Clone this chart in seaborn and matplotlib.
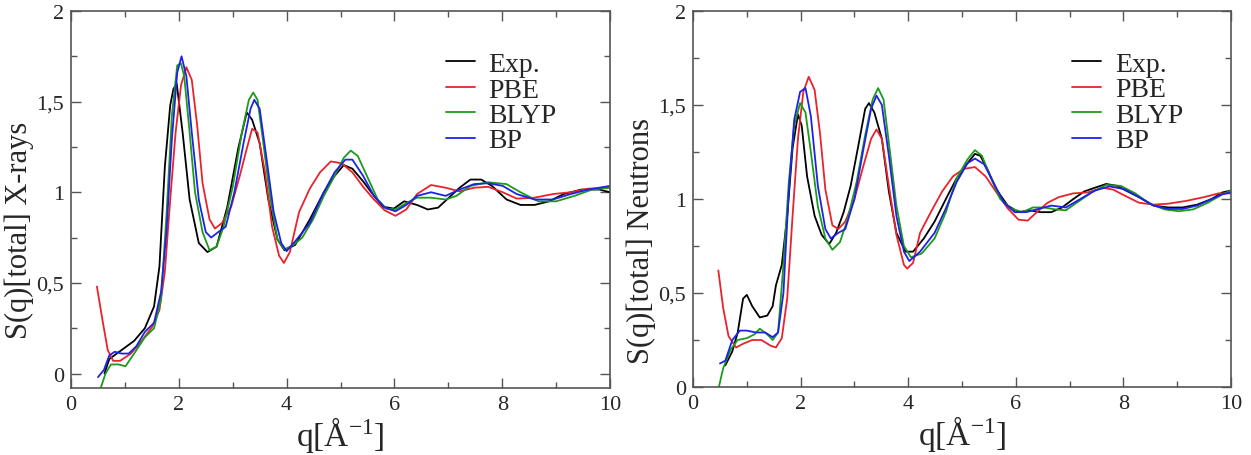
import numpy as np
import pandas as pd
import matplotlib
matplotlib.use('Agg')
import matplotlib.pyplot as plt
import seaborn as sns
from matplotlib.ticker import MultipleLocator, FuncFormatter

# --- data (q in 1/A, S(q) total) ---
series_names = ['Exp.', 'PBE', 'BLYP', 'BP']
series_colors = ['#000000', '#e8232b', '#1c9a1c', '#1f22e6']

# X-rays panel
xray_exp_q = [0.62, 0.71, 0.94, 1.17, 1.37, 1.54, 1.64, 1.74, 1.84, 1.90, 1.96, 2.07, 2.20, 2.37, 2.53, 2.70, 2.90, 3.10, 3.26, 3.36, 3.50, 3.66, 3.83, 3.96, 4.16, 4.43, 4.69, 4.89, 5.06, 5.22, 5.42, 5.62, 5.79, 5.99, 6.18, 6.42, 6.62, 6.81, 7.01, 7.21, 7.41, 7.61, 7.81, 8.08, 8.34, 8.60, 8.87, 9.14, 9.47, 9.80, 10.0]
xray_exp_s = [0.00, 0.08, 0.13, 0.18, 0.25, 0.37, 0.59, 1.14, 1.48, 1.57, 1.60, 1.33, 0.96, 0.72, 0.67, 0.70, 0.92, 1.24, 1.44, 1.40, 1.27, 0.96, 0.74, 0.68, 0.71, 0.85, 1.00, 1.09, 1.15, 1.13, 1.06, 0.98, 0.92, 0.91, 0.95, 0.93, 0.905, 0.915, 0.97, 1.025, 1.07, 1.07, 1.035, 0.96, 0.93, 0.93, 0.95, 0.99, 1.015, 1.015, 1.00]
xray_pbe_q = [0.48, 0.58, 0.68, 0.78, 0.91, 1.11, 1.31, 1.51, 1.64, 1.74, 1.84, 1.94, 2.04, 2.14, 2.24, 2.34, 2.44, 2.57, 2.67, 2.80, 2.97, 3.13, 3.26, 3.36, 3.46, 3.60, 3.73, 3.86, 3.95, 4.06, 4.23, 4.43, 4.62, 4.82, 5.02, 5.22, 5.42, 5.62, 5.82, 6.02, 6.22, 6.42, 6.68, 6.95, 7.21, 7.48, 7.74, 8.01, 8.27, 8.60, 8.94, 9.27, 9.60, 10.0]
xray_pbe_s = [0.48, 0.30, 0.13, 0.07, 0.07, 0.11, 0.18, 0.26, 0.35, 0.56, 0.96, 1.33, 1.59, 1.69, 1.62, 1.37, 1.05, 0.85, 0.80, 0.83, 0.92, 1.09, 1.24, 1.35, 1.33, 1.11, 0.81, 0.65, 0.61, 0.67, 0.89, 1.02, 1.11, 1.17, 1.16, 1.11, 1.03, 0.96, 0.90, 0.87, 0.905, 0.99, 1.04, 1.025, 1.005, 1.025, 1.03, 1.00, 0.965, 0.97, 0.99, 1.00, 1.02, 1.025]
xray_blyp_q = [0.55, 0.64, 0.74, 0.88, 1.01, 1.17, 1.37, 1.54, 1.67, 1.77, 1.87, 1.97, 2.04, 2.10, 2.20, 2.30, 2.44, 2.57, 2.70, 2.83, 3.00, 3.17, 3.30, 3.38, 3.46, 3.56, 3.70, 3.83, 3.96, 4.13, 4.29, 4.49, 4.69, 4.89, 5.06, 5.19, 5.32, 5.49, 5.69, 5.85, 6.02, 6.22, 6.42, 6.68, 6.95, 7.15, 7.41, 7.74, 8.08, 8.34, 8.67, 9.00, 9.34, 9.67, 10.0]
xray_blyp_s = [-0.08, 0.00, 0.05, 0.05, 0.04, 0.11, 0.20, 0.25, 0.41, 0.87, 1.42, 1.70, 1.71, 1.64, 1.33, 1.00, 0.78, 0.68, 0.70, 0.81, 1.03, 1.33, 1.51, 1.55, 1.51, 1.29, 0.96, 0.74, 0.685, 0.71, 0.75, 0.85, 0.98, 1.09, 1.19, 1.23, 1.20, 1.09, 0.96, 0.91, 0.905, 0.94, 0.97, 0.97, 0.96, 0.98, 1.035, 1.055, 1.045, 1.00, 0.95, 0.95, 0.98, 1.015, 1.025]
xray_bp_q = [0.50, 0.61, 0.71, 0.81, 0.94, 1.07, 1.21, 1.37, 1.54, 1.67, 1.77, 1.87, 1.97, 2.05, 2.14, 2.24, 2.37, 2.50, 2.60, 2.73, 2.87, 3.03, 3.20, 3.33, 3.40, 3.50, 3.63, 3.76, 3.90, 4.00, 4.16, 4.43, 4.69, 4.89, 5.09, 5.22, 5.42, 5.62, 5.82, 6.02, 6.22, 6.42, 6.68, 6.95, 7.21, 7.48, 7.74, 8.01, 8.27, 8.60, 8.94, 9.27, 9.60, 10.0]
xray_bp_s = [-0.02, 0.02, 0.10, 0.12, 0.11, 0.11, 0.15, 0.23, 0.28, 0.45, 0.78, 1.29, 1.66, 1.75, 1.64, 1.33, 0.96, 0.78, 0.75, 0.78, 0.81, 1.00, 1.27, 1.46, 1.51, 1.46, 1.18, 0.89, 0.72, 0.675, 0.73, 0.83, 1.00, 1.11, 1.18, 1.18, 1.09, 0.98, 0.915, 0.895, 0.93, 0.98, 1.00, 0.98, 1.015, 1.045, 1.05, 1.035, 0.99, 0.96, 0.96, 0.99, 1.015, 1.035]

# Neutrons panel
neut_exp_q = [0.60, 0.73, 0.83, 0.93, 1.00, 1.10, 1.24, 1.38, 1.48, 1.54, 1.65, 1.75, 1.85, 1.95, 2.02, 2.12, 2.26, 2.39, 2.53, 2.66, 2.80, 2.93, 3.07, 3.20, 3.27, 3.37, 3.51, 3.64, 3.78, 3.95, 4.09, 4.29, 4.49, 4.70, 4.90, 5.10, 5.24, 5.34, 5.47, 5.64, 5.85, 6.05, 6.25, 6.46, 6.66, 6.86, 7.07, 7.27, 7.47, 7.68, 7.88, 8.08, 8.29, 8.56, 8.83, 9.10, 9.37, 9.64, 9.84, 10.0]
neut_exp_s = [0.115, 0.19, 0.29, 0.47, 0.49, 0.43, 0.37, 0.38, 0.43, 0.54, 0.65, 0.91, 1.27, 1.45, 1.39, 1.12, 0.91, 0.81, 0.76, 0.82, 0.93, 1.07, 1.28, 1.48, 1.51, 1.46, 1.32, 1.04, 0.82, 0.72, 0.72, 0.79, 0.88, 1.00, 1.11, 1.19, 1.24, 1.23, 1.16, 1.05, 0.965, 0.93, 0.94, 0.93, 0.93, 0.955, 1.00, 1.04, 1.06, 1.08, 1.07, 1.04, 1.01, 0.965, 0.955, 0.955, 0.97, 1.00, 1.035, 1.045]
neut_pbe_q = [0.47, 0.56, 0.66, 0.80, 0.93, 1.10, 1.27, 1.44, 1.54, 1.65, 1.75, 1.85, 1.95, 2.05, 2.15, 2.26, 2.36, 2.46, 2.59, 2.70, 2.83, 3.00, 3.17, 3.31, 3.41, 3.51, 3.64, 3.78, 3.92, 3.98, 4.09, 4.22, 4.42, 4.63, 4.83, 5.03, 5.24, 5.44, 5.64, 5.85, 6.05, 6.22, 6.39, 6.59, 6.80, 7.07, 7.34, 7.61, 7.81, 8.01, 8.29, 8.56, 8.83, 9.17, 9.50, 9.77, 10.0]
neut_pbe_s = [0.62, 0.42, 0.27, 0.21, 0.23, 0.25, 0.25, 0.22, 0.21, 0.26, 0.47, 0.91, 1.32, 1.57, 1.65, 1.58, 1.35, 1.05, 0.86, 0.84, 0.88, 1.00, 1.18, 1.32, 1.37, 1.32, 1.07, 0.81, 0.65, 0.63, 0.66, 0.82, 0.93, 1.04, 1.12, 1.16, 1.17, 1.12, 1.035, 0.95, 0.89, 0.885, 0.93, 0.98, 1.01, 1.03, 1.035, 1.06, 1.05, 1.02, 0.98, 0.97, 0.975, 0.99, 1.01, 1.03, 1.03]
neut_blyp_q = [0.48, 0.56, 0.70, 0.83, 1.00, 1.14, 1.24, 1.38, 1.48, 1.58, 1.68, 1.78, 1.88, 1.99, 2.09, 2.19, 2.32, 2.46, 2.59, 2.73, 2.87, 3.04, 3.20, 3.34, 3.44, 3.54, 3.64, 3.78, 3.92, 4.05, 4.25, 4.49, 4.70, 4.90, 5.10, 5.24, 5.37, 5.54, 5.71, 5.91, 6.12, 6.32, 6.52, 6.73, 6.93, 7.13, 7.41, 7.68, 7.95, 8.22, 8.49, 8.76, 9.03, 9.30, 9.57, 9.84, 10.0]
neut_blyp_s = [0.00, 0.10, 0.20, 0.25, 0.26, 0.28, 0.31, 0.28, 0.25, 0.29, 0.65, 1.09, 1.39, 1.51, 1.46, 1.25, 0.96, 0.79, 0.73, 0.77, 0.89, 1.09, 1.34, 1.53, 1.59, 1.53, 1.30, 0.965, 0.75, 0.69, 0.71, 0.79, 0.93, 1.11, 1.21, 1.26, 1.23, 1.11, 1.00, 0.95, 0.93, 0.955, 0.955, 0.945, 0.94, 0.98, 1.035, 1.075, 1.07, 1.03, 0.975, 0.945, 0.935, 0.945, 0.98, 1.025, 1.045]
neut_bp_q = [0.50, 0.60, 0.73, 0.87, 1.00, 1.17, 1.34, 1.48, 1.58, 1.68, 1.78, 1.88, 1.99, 2.09, 2.19, 2.32, 2.46, 2.56, 2.70, 2.83, 3.00, 3.17, 3.31, 3.41, 3.51, 3.64, 3.78, 3.92, 4.02, 4.22, 4.49, 4.70, 4.90, 5.10, 5.24, 5.41, 5.58, 5.78, 5.98, 6.19, 6.39, 6.66, 6.93, 7.20, 7.47, 7.74, 8.01, 8.29, 8.56, 8.83, 9.10, 9.37, 9.64, 9.84, 10.0]
neut_bp_s = [0.125, 0.14, 0.25, 0.30, 0.30, 0.29, 0.29, 0.265, 0.29, 0.50, 1.04, 1.42, 1.57, 1.59, 1.44, 1.07, 0.84, 0.79, 0.82, 0.84, 1.00, 1.27, 1.48, 1.55, 1.50, 1.23, 0.91, 0.72, 0.67, 0.72, 0.82, 0.95, 1.09, 1.19, 1.215, 1.185, 1.09, 0.98, 0.93, 0.93, 0.945, 0.965, 0.955, 1.00, 1.045, 1.067, 1.053, 1.01, 0.965, 0.947, 0.947, 0.965, 1.00, 1.025, 1.035]


def long_frame(pairs):
    frames = []
    for name, (q, s) in zip(series_names, pairs):
        frames.append(pd.DataFrame({'q': q, 'S': s, 'model': name}))
    return pd.concat(frames, ignore_index=True)


xray_df = long_frame([(xray_exp_q, xray_exp_s), (xray_pbe_q, xray_pbe_s),
                      (xray_blyp_q, xray_blyp_s), (xray_bp_q, xray_bp_s)])
neut_df = long_frame([(neut_exp_q, neut_exp_s), (neut_pbe_q, neut_pbe_s),
                      (neut_blyp_q, neut_blyp_s), (neut_bp_q, neut_bp_s)])

sns.set_style('ticks')
plt.rcParams['font.family'] = ['Liberation Serif', 'DejaVu Serif']
plt.rcParams['mathtext.fontset'] = 'custom'
plt.rcParams['mathtext.rm'] = 'Liberation Serif'
plt.rcParams['mathtext.default'] = 'rm'

palette = dict(zip(series_names, series_colors))
comma = FuncFormatter(lambda v, p: ('%g' % v).replace('.', ','))

fig = plt.figure(figsize=(12.51, 4.56), dpi=100)
ax1 = fig.add_axes([0.0568, 0.1469, 0.4308, 0.8268])
ax2 = fig.add_axes([0.5540, 0.1491, 0.4300, 0.8246])

panels = [(ax1, xray_df, 'S(q)[total] X-rays', (-0.08, 2), 0.695, 0.42),
          (ax2, neut_df, 'S(q)[total] Neutrons', (0, 2), 0.705, 0.39)]

for ax, df, ylab, ylim, legx, laby in panels:
    sns.lineplot(data=df, x='q', y='S', hue='model', palette=palette,
                 sort=False, estimator=None, linewidth=1.3, ax=ax)
    ax.set_xlim(0, 10)
    ax.set_ylim(*ylim)
    ax.xaxis.set_major_locator(MultipleLocator(2))
    ax.xaxis.set_minor_locator(MultipleLocator(1))
    ax.yaxis.set_major_locator(MultipleLocator(0.5))
    ax.yaxis.set_minor_locator(MultipleLocator(0.25))
    ax.yaxis.set_major_formatter(comma)
    ax.xaxis.set_major_formatter(comma)
    ax.tick_params(which='both', direction='in', top=True, right=True,
                   color='#555555', labelsize=16, pad=5)
    ax.tick_params(which='major', length=7, width=1)
    ax.tick_params(which='minor', length=4, width=1)
    for sp in ax.spines.values():
        sp.set_color('#555555')
        sp.set_linewidth(1.2)
    ax.set_ylabel(ylab, fontsize=22)
    ax.yaxis.set_label_coords(-0.068, laby)
    ax.set_xlabel('q[Å$^{-1}$]', fontsize=24)
    ax.xaxis.set_label_coords(0.5, -0.07)
    ax.legend(title=None, frameon=False, loc='upper left',
              bbox_to_anchor=(legx, 0.892), fontsize=20,
              handlelength=1.05, handletextpad=0.5, labelspacing=0.0,
              borderaxespad=0, borderpad=0)

fig.savefig('out.png', dpi=100)
